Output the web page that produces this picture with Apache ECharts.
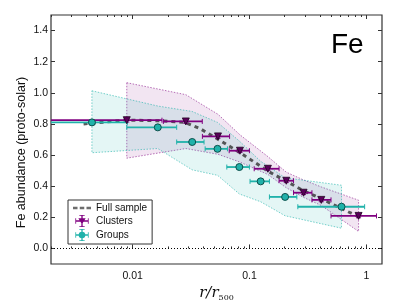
<!DOCTYPE html>
<html><head><meta charset="utf-8">
<script src="https://cdn.jsdelivr.net/npm/echarts@6/dist/echarts.min.js"></script>
<style>html,body{margin:0;padding:0;background:#fff}#c{width:407px;height:307px}</style>
</head><body><div id="c"></div>
<script>
// ---- data ----
const clusterX   = [0.0089, 0.0285, 0.0537, 0.0828, 0.1436, 0.2063, 0.290, 0.411, 0.857];
const clusterY   = [0.824, 0.816, 0.720, 0.628, 0.512, 0.435, 0.358, 0.312, 0.209];
const clusterXLo = [0, 0.0183, 0.0395, 0.0670, 0.1096, 0.179, 0.238, 0.342, 0.498];
const clusterXHi = [0.0178, 0.0394, 0.0675, 0.0998, 0.179, 0.238, 0.342, 0.498, 1.22];
const clusterYErr = [0.012, 0.012, 0.012, 0.012, 0.012, 0.012, 0.012, 0.012, 0.012];
const clusterBandLo = [0.58, 0.642, 0.605, 0.555, 0.475, 0.39, 0.328, 0.276, 0.109];
const clusterBandHi = [1.065, 0.988, 0.862, 0.73, 0.59, 0.49, 0.44, 0.395, 0.31];

const groupX   = [0.00448, 0.0164, 0.0323, 0.0532, 0.0818, 0.1245, 0.2015, 0.6125];
const groupY   = [0.810, 0.778, 0.684, 0.640, 0.523, 0.431, 0.331, 0.268];
const groupXLo = [0, 0.0089, 0.0238, 0.0417, 0.0639, 0.101, 0.148, 0.259];
const groupXHi = [0.0090, 0.0238, 0.0408, 0.0647, 0.0997, 0.148, 0.254, 0.966];
const groupYErr = [0.012, 0.012, 0.012, 0.012, 0.012, 0.012, 0.012, 0.012];
const groupBandLo = [0.615, 0.642, 0.505, 0.47, 0.35, 0.30, 0.21, 0.13];
const groupBandHi = [1.013, 0.915, 0.88, 0.81, 0.69, 0.56, 0.454, 0.406];

const fullX = [0.0038, 0.0089, 0.018, 0.028, 0.0377, 0.049, 0.068, 0.098, 0.141, 0.209, 0.29, 0.41, 0.56, 0.85];
const fullY = [0.80, 0.825, 0.82, 0.81, 0.77, 0.72, 0.655, 0.58, 0.50, 0.43, 0.37, 0.32, 0.27, 0.205];

const xMajorTicks = [0.01, 0.1, 1];
const xMinorTicks = [0.002,0.003,0.004,0.005,0.006,0.007,0.008,0.009,
                     0.02,0.03,0.04,0.05,0.06,0.07,0.08,0.09,
                     0.2,0.3,0.4,0.5,0.6,0.7,0.8,0.9];
const yTicks = [0, 0.2, 0.4, 0.6, 0.8, 1.0, 1.2, 1.4];

// ---- chart ----
const X_MIN = 0.002, X_MAX = 1.36, Y_MIN = -0.1, Y_MAX = 1.5;
const FONT = 'Liberation Sans, Arial, sans-serif';
const PURPLE = '#800080', TEAL = '#20b2aa', GRAY = 'rgba(60,60,60,0.85)';

function bandRender(xs, lo, hi, fill, edge) {
  return function (params, api) {
    if (params.dataIndex !== 0) return;
    const up = xs.map((x, i) => api.coord([x, hi[i]]));
    const dn = xs.map((x, i) => api.coord([x, lo[i]]));
    return {
      type: 'polygon',
      shape: { points: up.concat(dn.slice().reverse()) },
      style: { fill: fill, stroke: edge, lineWidth: 1, lineDash: [1.5, 1.5] }
    };
  };
}

function errRender(color) {
  return function (params, api) {
    const x = api.value(0), y = api.value(1), xl = api.value(2), xh = api.value(3),
          yl = api.value(4), yh = api.value(5);
    const clampL = xl <= X_MIN;
    const pL = api.coord([clampL ? X_MIN : xl, y]);
    const pR = api.coord([xh, y]);
    const pT = api.coord([x, yh]);
    const pB = api.coord([x, yl]);
    const cap = 2.5;
    const st = { stroke: color, lineWidth: 1.8 };
    const st1 = { stroke: color, lineWidth: 1 };
    const kids = [
      { type: 'line', shape: { x1: pL[0], y1: pL[1], x2: pR[0], y2: pR[1] }, style: st },
      { type: 'line', shape: { x1: pT[0], y1: pT[1], x2: pB[0], y2: pB[1] }, style: st },
      { type: 'line', shape: { x1: pR[0], y1: pR[1] - cap, x2: pR[0], y2: pR[1] + cap }, style: st1 },
      { type: 'line', shape: { x1: pT[0] - cap, y1: pT[1], x2: pT[0] + cap, y2: pT[1] }, style: st1 },
      { type: 'line', shape: { x1: pB[0] - cap, y1: pB[1], x2: pB[0] + cap, y2: pB[1] }, style: st1 }
    ];
    if (!clampL) kids.push({ type: 'line', shape: { x1: pL[0], y1: pL[1] - cap, x2: pL[0], y2: pL[1] + cap }, style: st1 });
    return { type: 'group', children: kids };
  };
}

function fmtX(v) { return String(+(+v).toPrecision(3)); }

function xAxisDef(pos, ticks, len, labels) {
  return {
    type: 'log', logBase: 10, min: X_MIN, max: X_MAX, position: pos, gridIndex: 0,
    axisLine: { show: false }, splitLine: { show: false },
    axisTick: { show: true, inside: true, length: len, customValues: ticks, lineStyle: { color: '#333', width: 1 } },
    axisLabel: labels ? { show: true, customValues: ticks, formatter: fmtX, color: '#111', fontSize: 10.5, fontFamily: FONT, margin: 7 } : { show: false }
  };
}

const xAxes = [
  Object.assign(xAxisDef('bottom', xMajorTicks, 4, true), {
    name: '{a|r/r}{b|500}', nameLocation: 'middle', nameGap: 20, nameMoveOverlap: false,
    nameTextStyle: { rich: {
      a: { fontFamily: 'DejaVu Serif', fontStyle: 'italic', fontSize: 15, color: '#111' },
      b: { fontFamily: 'DejaVu Serif', fontSize: 8, color: '#111', padding: [10, 0, 0, 0] }
    } }
  }),
  xAxisDef('bottom', xMinorTicks, 2, false),
  xAxisDef('top', xMajorTicks, 4, false),
  xAxisDef('top', xMinorTicks, 2, false)
];

function yAxisDef(pos, labels) {
  const ax = {
    type: 'value', min: Y_MIN, max: Y_MAX, position: pos,
    axisLine: { show: false }, splitLine: { show: false },
    axisTick: { show: true, inside: true, length: 4, customValues: yTicks, lineStyle: { color: '#333' } },
    axisLabel: labels ? { show: true, customValues: yTicks, formatter: v => (+v).toFixed(1), color: '#111', fontSize: 10.5, fontFamily: FONT, margin: 3 } : { show: false }
  };
  if (labels) {
    ax.name = 'Fe abundance (proto-solar)';
    ax.nameLocation = 'middle';
    ax.nameGap = 23;
    ax.nameMoveOverlap = false;
    ax.nameTextStyle = { fontSize: 12.5, color: '#111', fontFamily: FONT, padding: [0, 26, 0, 0] };
  }
  return ax;
}

const dashIcon = 'path://M0 9h5v2.6H0z M7.5 9h5v2.6h-5z M15 9h5v2.6h-5z';
const clusterIcon = 'path://M0 9h20v2H0z M0 6h1.2v8H0z M18.8 6h1.2v8h-1.2z M9 1h2v18h-2z M6 1h8v1.2H6z M6 17.8h8V19H6z M4.5 6h11l-5.5 9z';
const groupIcon = 'path://M0 9h20v2H0z M0 6h1.2v8H0z M18.8 6h1.2v8h-1.2z M9 1h2v18h-2z M6 1h8v1.2H6z M6 17.8h8V19H6z M15 10a5 5 0 1 1 -10 0a5 5 0 1 1 10 0z';

const option = {
  animation: false,
  backgroundColor: '#fff',
  title: { text: 'Fe', left: 326, top: 26, textStyle: { fontSize: 28, fontWeight: 'normal', color: '#000', fontFamily: FONT } },
  grid: { left: 51, right: 25, top: 15, bottom: 38, show: true, borderColor: '#333', borderWidth: 1.2, backgroundColor: 'transparent' },
  legend: {
    left: 68, top: 200, orient: 'vertical',
    backgroundColor: '#fff', borderColor: '#333', borderWidth: 1, borderRadius: 0,
    padding: [3, 5, 3, 5], itemGap: 2, itemWidth: 18, itemHeight: 12,
    textStyle: { fontSize: 10, color: '#111', fontFamily: FONT },
    data: [
      { name: 'Full sample', icon: dashIcon, itemStyle: { color: 'rgba(60,60,60,0.75)', borderWidth: 0 } },
      { name: 'Clusters', icon: clusterIcon, itemStyle: { color: PURPLE, borderWidth: 0 } },
      { name: 'Groups', icon: groupIcon, itemStyle: { color: TEAL, borderWidth: 0 } }
    ]
  },
  xAxis: xAxes,
  yAxis: [yAxisDef('left', true), yAxisDef('right', false)],
  series: [
    {
      type: 'custom', name: 'clusterBand', silent: true, z: 1,
      renderItem: bandRender(clusterX, clusterBandLo, clusterBandHi, 'rgba(128,0,128,0.10)', 'rgba(128,0,128,0.55)'),
      encode: { x: 0, y: 1 },
      data: clusterX.map((x, i) => [x, clusterBandHi[i]])
    },
    {
      type: 'custom', name: 'groupBand', silent: true, z: 1,
      renderItem: bandRender(groupX, groupBandLo, groupBandHi, 'rgba(32,178,170,0.12)', 'rgba(32,178,170,0.6)'),
      encode: { x: 0, y: 1 },
      data: groupX.map((x, i) => [x, groupBandHi[i]])
    },
    {
      type: 'line', name: 'Full sample', z: 3,
      data: fullX.map((x, i) => [x, fullY[i]]),
      symbol: 'none', showSymbol: false,
      lineStyle: { color: GRAY, width: 3, type: [4, 4] },
      itemStyle: { color: GRAY },
      markLine: {
        silent: true, symbol: 'none', label: { show: false },
        lineStyle: { type: [1, 2], color: '#000', width: 1 },
        data: [{ yAxis: 0 }]
      }
    },
    {
      type: 'custom', name: 'clusterErr', silent: true, z: 4,
      renderItem: errRender(PURPLE),
      encode: { x: 0, y: 1 },
      data: clusterX.map((x, i) => [x, clusterY[i], clusterXLo[i], clusterXHi[i], clusterY[i] - clusterYErr[i], clusterY[i] + clusterYErr[i]])
    },
    {
      type: 'scatter', name: 'Clusters', z: 5,
      symbol: 'triangle', symbolRotate: 180, symbolSize: 7,
      itemStyle: { color: '#5a005a', borderColor: '#200020', borderWidth: 0.8, opacity: 1 },
      data: clusterX.map((x, i) => [x, clusterY[i]])
    },
    {
      type: 'custom', name: 'groupErr', silent: true, z: 4,
      renderItem: errRender(TEAL),
      encode: { x: 0, y: 1 },
      data: groupX.map((x, i) => [x, groupY[i], groupXLo[i], groupXHi[i], groupY[i] - groupYErr[i], groupY[i] + groupYErr[i]])
    },
    {
      type: 'scatter', name: 'Groups', z: 5,
      symbol: 'circle', symbolSize: 7,
      itemStyle: { color: TEAL, borderColor: '#0d4f4b', borderWidth: 1, opacity: 1 },
      data: groupX.map((x, i) => [x, groupY[i]])
    }
  ]
};

const chart = echarts.init(document.getElementById('c'), null, { renderer: 'canvas' });
chart.setOption(option);
</script>
</body></html>
